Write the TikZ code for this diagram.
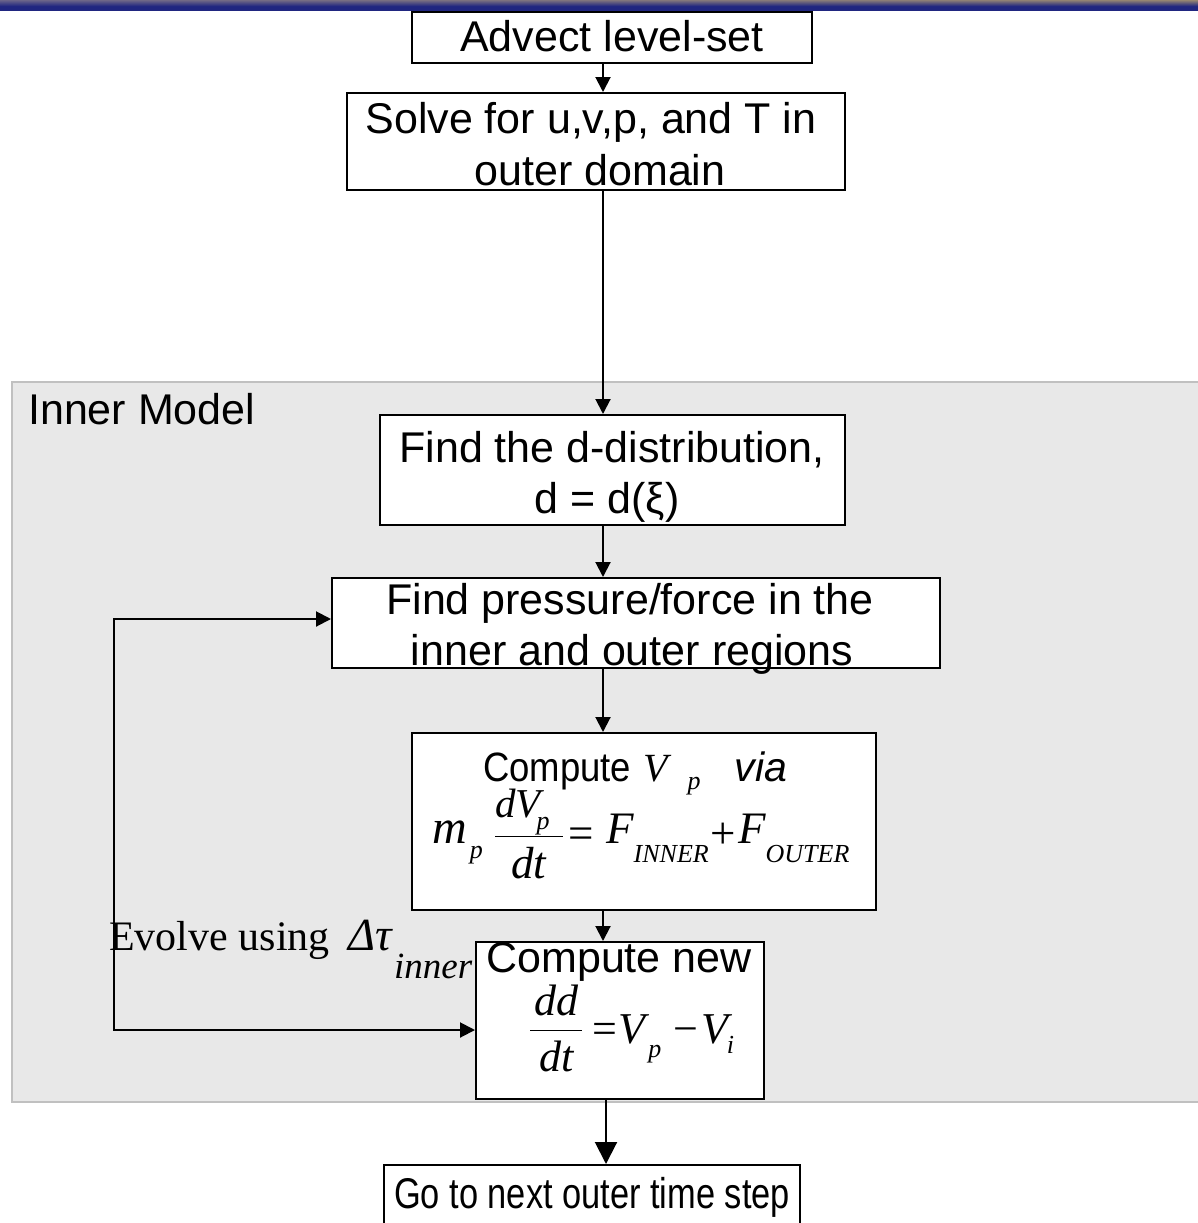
\RequirePackage{fix-cm}
\documentclass[tikz,border=0pt]{standalone}
\usepackage{amsmath}
\usepackage{graphicx}
\usepackage{fontspec}
\setmainfont{Liberation Sans}
\newfontfamily\tnr{Liberation Serif}
\usetikzlibrary{arrows.meta}
\newcommand\ti[1]{\mbox{\tnr\itshape #1}}
\newcommand\sbs[1]{\mbox{\tnr\itshape\fontsize{26}{26}\selectfont #1}}
\definecolor{barTL}{RGB}{118,110,140}
\definecolor{barTR}{RGB}{170,150,110}
\definecolor{barB}{RGB}{32,38,128}
\definecolor{regfill}{RGB}{232,232,232}
\definecolor{regline}{RGB}{192,192,192}
\tikzset{
  boxn/.style={draw, line width=2pt, fill=white, inner sep=0pt},
  lbl/.style={inner sep=0pt, font=\fontsize{43}{50}\selectfont},
  arr/.style={line width=2pt, -{Triangle[length=15pt,width=15pt]}},
  bigarr/.style={line width=2pt, -{Triangle[length=22pt,width=22pt]}},
}
\begin{document}
\begin{tikzpicture}[x=1pt,y=-1pt]
\useasboundingbox (0,0) rectangle (1198,1223);
% top bar
\foreach \i in {0,...,9}{
  \pgfmathtruncatemacro\p{min(100,\i*14)}
  \shade[left color=barB!\p!barTL, right color=barB!\p!barTR] (0,\i) rectangle (1198,\i+1.1);
}
% inner model region
\draw[line width=2pt, draw=regline, fill=regfill] (12,382) rectangle (1210,1102);
\node[lbl, anchor=base west] (im) at (28,424) {Inner Model};
% boxes
\node[boxn, minimum width=400pt, minimum height=51pt] (b1) at (612,37.5) {};
\node[boxn, minimum width=498pt, minimum height=97pt] (b2) at (596,141.5) {};
\node[boxn, minimum width=465pt, minimum height=110pt] (b3) at (612.5,470) {};
\node[boxn, minimum width=608pt, minimum height=90pt] (b4) at (636,623) {};
\node[boxn, minimum width=464pt, minimum height=177pt] (b5) at (644,821.5) {};
\node[boxn, minimum width=288pt, minimum height=157pt] (b6) at (620,1020.5) {};
\node[boxn, minimum width=416pt, minimum height=64pt] (b7) at (592,1197) {};
% texts
\node[lbl, anchor=base] (t1) at (612,52) {Advect level-set};
\node[lbl, anchor=base] (t2a) at (591,133) {Solve for u,v,p, and T in};
\node[lbl, anchor=base] (t2b) at (600,185) {outer domain};
\node[lbl, anchor=base] (t3a) at (612,462) {Find the d-distribution,};
\node[lbl, anchor=base] (t3b) at (607,513) {d = d(ξ)};
\node[lbl, anchor=base] (t4a) at (630,614) {Find pressure/force in the};
\node[lbl, anchor=base] (t4b) at (632,665) {inner and outer regions};
\node[inner sep=0pt, anchor=base west, font=\fontsize{41}{48}\selectfont] (t5a) at (483,781)
  {\scalebox{0.89}[1]{Compute}\hspace{12pt}{\fontsize{40}{40}\selectfont\ti{V}}\hspace{20pt}\raisebox{-8pt}{\sbs{p}}\hspace{34pt}\textit{via}};
\node[inner sep=0pt, anchor=base west, font=\fontsize{45}{50}\selectfont] (t5b) at (432,843)
  {{\fontsize{48}{50}\selectfont\ti{m}}\hspace{3pt}\raisebox{-15pt}{\sbs{p}}\hspace{11pt}\raisebox{-5pt}{$\displaystyle\frac{{\fontsize{41}{45}\selectfont\ti{dV}}\hspace{-4pt}\raisebox{-12pt}[0pt][0pt]{\sbs{p}}\hspace{13pt}}{\ti{dt}}$}\hspace{5pt}\raisebox{-5pt}{\tnr =}\hspace{12pt}\ti{F}\raisebox{-19pt}{\sbs{INNER}}\hspace{2pt}\raisebox{-5pt}{\tnr +}\hspace{2pt}\ti{F}\raisebox{-19pt}{\sbs{OUTER}}};
\node[lbl, anchor=base] (t6a) at (619,972) {Compute new};
\node[inner sep=0pt, anchor=base west, font=\fontsize{44}{50}\selectfont] (t6b) at (529,1043)
  {\raisebox{2pt}{$\displaystyle\frac{\raisebox{-4pt}[0pt][0pt]{\hspace{4pt}\ti{dd}\hspace{4pt}}}{\ti{dt}}$}\hspace{9pt}{\tnr =}\hspace{1pt}\ti{V}\hspace{3pt}\raisebox{-14pt}{\sbs{p}}\hspace{12pt}{\tnr −}\hspace{3pt}\ti{V}\hspace{-1pt}\raisebox{-10pt}{\sbs{i}}};
\node[lbl, anchor=base] (t7) at (592,1208) {\scalebox{0.8}[1]{Go to next outer time step}};
\node[inner sep=0pt, anchor=base west, font=\fontsize{42}{48}\selectfont\tnr] (ev) at (109,950)
  {Evolve using\hspace{19pt}{\itshape\fontsize{46}{48}\selectfont Δτ}\hspace{2pt}\raisebox{-28pt}{\itshape\fontsize{37}{40}\selectfont inner}};
% connectors
\coordinate (ax) at (603,0);
\coordinate (bx) at (606,0);
\coordinate (lx) at (114,0);
\draw[arr] (b1.south -| ax) -- (b2.north -| ax);
\draw[arr] (b2.south -| ax) -- (b3.north -| ax);
\draw[arr] (b3.south -| ax) -- (b4.north -| ax);
\draw[arr] (b4.south -| ax) -- (b5.north -| ax);
\draw[arr] (b5.south -| ax) -- (b6.north -| ax);
\draw[bigarr] (b6.south -| bx) -- (b7.north -| bx);
\coordinate (la) at ([yshift=4pt]b4.west);
\coordinate (lb) at ([yshift=-9.5pt]b6.west);
\draw[line width=2pt, {Triangle[length=15pt,width=15pt]}-{Triangle[length=15pt,width=15pt]}]
  (la) -- (la -| lx) -- (lb -| lx) -- (lb);
\end{tikzpicture}
\end{document}
